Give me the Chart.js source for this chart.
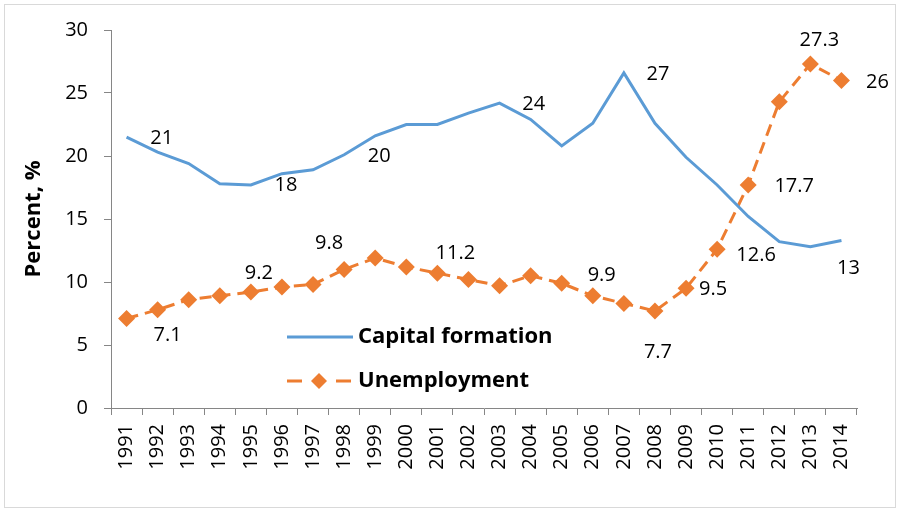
<!DOCTYPE html>
<html>
<head>
<meta charset="utf-8">
<script src="https://cdn.jsdelivr.net/npm/chart.js@4.4.1/dist/chart.umd.min.js"></script>
<style>
    html, body { margin: 0; padding: 0; background: #fff; }
    canvas { display: block; }
</style>
</head>
<body>
<canvas id="chart" width="898" height="509"></canvas>
<script>
// data
const years = ['1991', '1992', '1993', '1994', '1995', '1996', '1997', '1998', '1999', '2000', '2001', '2002',
               '2003', '2004', '2005', '2006', '2007', '2008', '2009', '2010', '2011', '2012', '2013', '2014'];
const capitalFormation = [21.5, 20.3, 19.4, 17.8, 17.7, 18.6, 18.9, 20.1, 21.6, 22.5, 22.5, 23.4,
                          24.2, 22.9, 20.8, 22.6, 26.6, 22.6, 19.9, 17.7, 15.2, 13.2, 12.8, 13.3];
const unemployment = [7.1, 7.8, 8.6, 8.9, 9.2, 9.6, 9.8, 11.0, 11.9, 11.2, 10.7, 10.2,
                      9.7, 10.5, 9.9, 8.9, 8.3, 7.7, 9.5, 12.6, 17.7, 24.3, 27.3, 26.0];
const yTicks = [0, 5, 10, 15, 20, 25, 30];

// data labels: which series, which point, the text shown
const labelSeries = [0, 0, 0, 0, 0, 0, 1, 1, 1, 1, 1, 1, 1, 1, 1, 1, 1];
const labelIndex  = [1, 5, 8, 13, 16, 23, 0, 4, 6, 10, 14, 17, 18, 19, 20, 22, 23];
const labelText   = ['21', '18', '20', '24', '27', '13', '7.1', '9.2', '9.8', '11.2', '9.9', '7.7', '9.5', '12.6', '17.7', '27.3', '26'];
// label offsets from their point (px)
const labelOffsets = [[4, -14], [4, 12], [4, 20], [3, -15], [34, 1], [7, 28], [41, 17], [8, -19], [16, -41],
                      [18, -20], [40, -8], [3, 41], [27, 1], [39, 6], [46, 1], [9, -24], [36, 2]];

const BLUE = '#5B9BD5';
const ORANGE = '#ED7D31';
const AXIS = '#868686';
const FONT = "'Open Sans', sans-serif";

// white background + outer frame
const framePlugin = {
    id: 'frame',
    beforeDraw(chart) {
        const ctx = chart.ctx;
        ctx.save();
        ctx.fillStyle = '#fff';
        ctx.fillRect(0, 0, chart.width, chart.height);
        ctx.strokeStyle = '#d9d9d9';
        ctx.lineWidth = 1;
        ctx.strokeRect(4.5, 4.5, 891, 503);
        ctx.restore();
    }
};

// value labels next to points
const valueLabels = {
    id: 'valueLabels',
    afterDatasetsDraw(chart) {
        const ctx = chart.ctx;
        const xs = chart.scales.x, ys = chart.scales.y;
        ctx.save();
        ctx.font = '20px ' + FONT;
        ctx.fillStyle = '#000';
        ctx.textAlign = 'center';
        ctx.textBaseline = 'middle';
        labelText.forEach((t, i) => {
            const v = chart.data.datasets[labelSeries[i]].data[labelIndex[i]];
            const x = xs.getPixelForValue(labelIndex[i]) + labelOffsets[i][0];
            const y = ys.getPixelForValue(v) + labelOffsets[i][1];
            ctx.fillText(t, x, y);
        });
        ctx.restore();
    }
};

// legend sitting inside the plot
const insideLegend = {
    id: 'insideLegend',
    afterDraw(chart) {
        const ctx = chart.ctx;
        ctx.save();
        ctx.lineWidth = 3;
        ctx.strokeStyle = BLUE;
        ctx.beginPath();
        ctx.moveTo(287, 337);
        ctx.lineTo(353, 337);
        ctx.stroke();

        ctx.strokeStyle = ORANGE;
        ctx.beginPath();
        ctx.moveTo(287, 381); ctx.lineTo(302, 381);
        ctx.moveTo(336, 381); ctx.lineTo(351, 381);
        ctx.stroke();
        ctx.fillStyle = ORANGE;
        ctx.beginPath();
        ctx.moveTo(311, 381); ctx.lineTo(319, 373); ctx.lineTo(327, 381); ctx.lineTo(319, 389);
        ctx.closePath();
        ctx.fill();

        ctx.fillStyle = '#000';
        ctx.font = 'bold 22px ' + FONT;
        ctx.textAlign = 'left';
        ctx.textBaseline = 'middle';
        ctx.fillText('Capital formation', 358, 337);
        ctx.fillText('Unemployment', 358, 381);
        ctx.restore();
    }
};

const ctx = document.getElementById('chart').getContext('2d');
new Chart(ctx, {
    type: 'line',
    data: {
        labels: years,
        datasets: [{
            label: 'Capital formation',
            data: capitalFormation,
            borderColor: BLUE,
            borderWidth: 3,
            pointRadius: 0,
            tension: 0
        }, {
            label: 'Unemployment',
            data: unemployment,
            borderColor: ORANGE,
            backgroundColor: ORANGE,
            borderWidth: 3,
            borderDash: [12, 7],
            pointStyle: 'rectRot',
            pointRadius: 8.5,
            pointBorderWidth: 0,
            tension: 0
        }]
    },
    options: {
        responsive: false,
        animation: false,
        devicePixelRatio: 1,
        layout: { padding: { top: 30, right: 41, bottom: 0, left: 0 } },
        plugins: {
            legend: { display: false },
            tooltip: { enabled: false }
        },
        scales: {
            x: {
                offset: true,
                grid: { offset: true, drawOnChartArea: false, drawTicks: true, tickLength: 7, color: AXIS },
                border: { color: AXIS, width: 1 },
                ticks: {
                    autoSkip: false,
                    minRotation: 90,
                    maxRotation: 90,
                    padding: 9,
                    color: '#000',
                    font: { family: FONT, size: 20 }
                },
                afterFit(scale) { scale.height = 101; }
            },
            y: {
                min: 0,
                max: 30,
                afterBuildTicks(scale) { scale.ticks = yTicks.map(v => ({ value: v })); },
                grid: { drawOnChartArea: false, drawTicks: true, tickLength: 7, color: AXIS },
                border: { color: AXIS, width: 1 },
                ticks: {
                    padding: 16,
                    color: '#000',
                    font: { family: FONT, size: 20 }
                },
                title: {
                    display: true,
                    text: 'Percent, %',
                    color: '#000',
                    font: { family: FONT, size: 22, weight: 'bold' },
                    padding: { top: 21, bottom: 0 }
                },
                afterFit(scale) { scale.width = 111; }
            }
        }
    },
    plugins: [framePlugin, valueLabels, insideLegend]
});
</script>
</body>
</html>
